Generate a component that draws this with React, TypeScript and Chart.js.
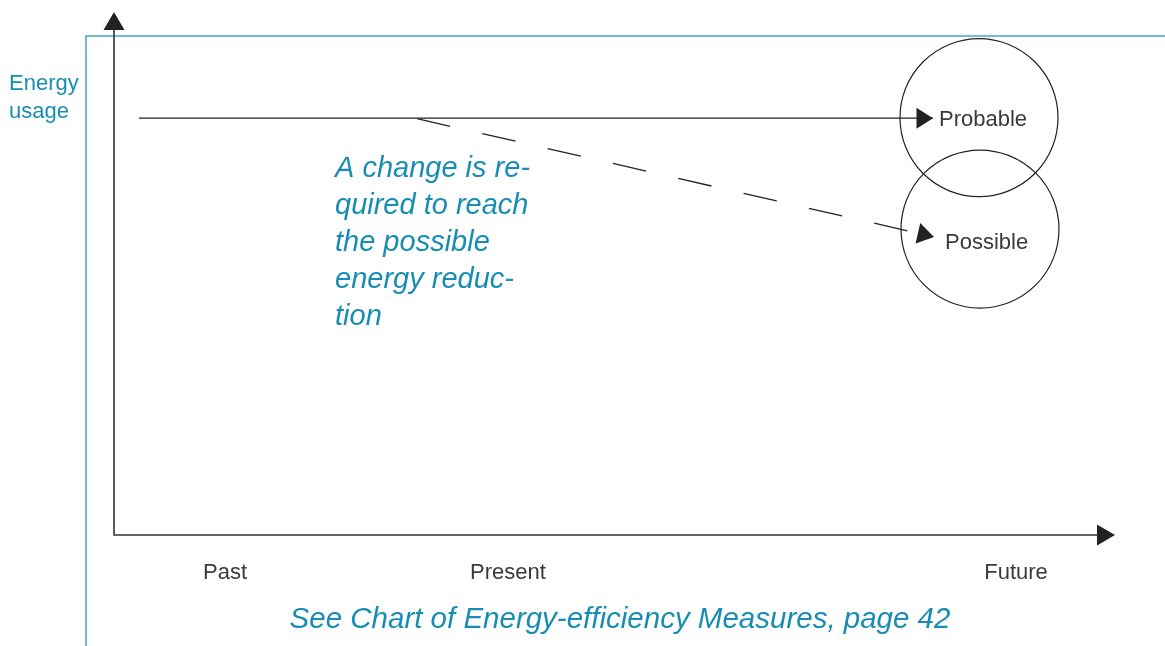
import React, { useEffect, useRef } from "react";
import { Chart, registerables } from "chart.js";

Chart.register(...registerables);

// ---- data (conceptual units: time 0..100, energy usage 0..100) ----
const timeLabels = ["Past", "Present", "Future"];
const timeLabelValues = [11.1, 39.4, 90.2];

const probableX = [2.5, 81.9];
const probableY = [79.7, 79.7];

const possibleX = [30.3, 82.0];
const possibleY = [79.6, 57.0];

const outcomeNames = ["Probable", "Possible"];
const outcomeX = [86.5, 86.6];
const outcomeY = [79.8, 58.5];

const yAxisTitle = ["Energy", "usage"];
const noteLines = ["A change is re-", "quired to reach", "the possible", "energy reduc-", "tion"];
const caption = "See Chart of Energy-efficiency Measures, page 42";

const TEAL = "#188db3";
const FRAME = "#45a6c6";
const INK = "#222222";
const TEXT = "#3a3a3a";
const SANS = '"Liberation Sans", Arial, sans-serif';

function arrowHead(ctx: CanvasRenderingContext2D, tx: number, ty: number, ang: number, len: number, half: number, color: string) {
  ctx.save();
  ctx.translate(tx, ty);
  ctx.rotate(ang);
  ctx.beginPath();
  ctx.moveTo(0, 0);
  ctx.lineTo(-len, -half);
  ctx.lineTo(-len, half);
  ctx.closePath();
  ctx.fillStyle = color;
  ctx.fill();
  ctx.restore();
}

const diagramPlugin = {
  id: "diagram",
  beforeDraw(chart: any) {
    const { ctx, chartArea, width, height } = chart;
    ctx.save();
    ctx.fillStyle = "#ffffff";
    ctx.fillRect(0, 0, width, height);
    // teal frame
    ctx.strokeStyle = FRAME;
    ctx.lineWidth = 1.5;
    ctx.beginPath();
    ctx.moveTo(width + 2, chartArea.top + 24);
    ctx.lineTo(chartArea.left - 28, chartArea.top + 24);
    ctx.lineTo(chartArea.left - 28, height + 2);
    ctx.stroke();
    ctx.restore();
  },
  afterDatasetsDraw(chart: any) {
    const { ctx, chartArea, scales } = chart;
    const xs = scales.x;
    const ys = scales.y;
    ctx.save();

    // axes
    ctx.strokeStyle = "#333333";
    ctx.lineWidth = 1.6;
    ctx.beginPath();
    ctx.moveTo(chartArea.left, chartArea.top + 18);
    ctx.lineTo(chartArea.left, chartArea.bottom);
    ctx.lineTo(chartArea.right - 17, chartArea.bottom);
    ctx.stroke();
    arrowHead(ctx, chartArea.left, chartArea.top, -Math.PI / 2, 18, 10.5, INK);
    arrowHead(ctx, chartArea.right + 1, chartArea.bottom, 0, 18, 10.5, INK);

    // arrowheads for the two paths
    const paths = [
      [probableX, probableY],
      [possibleX, possibleY],
    ];
    paths.forEach(([px, py]) => {
      const n = px.length;
      const x1 = xs.getPixelForValue(px[n - 2]);
      const y1 = ys.getPixelForValue(py[n - 2]);
      const x2 = xs.getPixelForValue(px[n - 1]);
      const y2 = ys.getPixelForValue(py[n - 1]);
      arrowHead(ctx, x2, y2, Math.atan2(y2 - y1, x2 - x1), 16.5, 10.5, INK);
    });

    // outcome labels
    ctx.fillStyle = TEXT;
    ctx.font = `22px ${SANS}`;
    ctx.textBaseline = "alphabetic";
    ctx.textAlign = "left";
    outcomeNames.forEach((name, i) => {
      const cx = xs.getPixelForValue(outcomeX[i]);
      const cy = ys.getPixelForValue(outcomeY[i]);
      if (i === 0) ctx.fillText(name, cx - 40, cy + 8);
      else ctx.fillText(name, cx - 35, cy + 20);
    });

    // time labels
    ctx.textAlign = "center";
    timeLabels.forEach((t, i) => {
      ctx.fillText(t, xs.getPixelForValue(timeLabelValues[i]), chartArea.bottom + 44);
    });

    // y axis title
    ctx.fillStyle = TEAL;
    ctx.textAlign = "left";
    ctx.font = `22px ${SANS}`;
    yAxisTitle.forEach((t, i) => {
      ctx.fillText(t, 9, 90 + i * 27.5);
    });

    // note
    ctx.font = `italic 29px ${SANS}`;
    noteLines.forEach((t, i) => {
      ctx.fillText(t, 335, 177 + i * 37);
    });

    // caption
    ctx.textAlign = "center";
    ctx.font = `italic 29.5px ${SANS}`;
    ctx.fillText(caption, 620, 628);

    ctx.restore();
  },
};

export default function App() {
  const canvasRef = useRef<HTMLCanvasElement | null>(null);

  useEffect(() => {
    if (!canvasRef.current) return;
    const chart = new Chart(canvasRef.current, {
      type: "scatter",
      data: {
        datasets: [
          {
            type: "line",
            label: "Probable",
            data: probableX.map((x, i) => ({ x, y: probableY[i] })),
            borderColor: INK,
            borderWidth: 1.4,
            pointRadius: 0,
            fill: false,
          },
          {
            type: "line",
            label: "Possible",
            data: possibleX.map((x, i) => ({ x, y: possibleY[i] })),
            borderColor: INK,
            borderWidth: 1.3,
            borderDash: [34, 33],
            pointRadius: 0,
            fill: false,
          },
          {
            type: "scatter",
            label: "Outcomes",
            data: outcomeX.map((x, i) => ({ x, y: outcomeY[i] })),
            pointRadius: 79,
            pointHoverRadius: 79,
            pointBackgroundColor: "rgba(0,0,0,0)",
            pointBorderColor: INK,
            pointBorderWidth: 1.2,
            clip: false,
          } as any,
        ],
      },
      options: {
        animation: false,
        responsive: true,
        maintainAspectRatio: false,
        events: [],
        layout: { autoPadding: false, padding: { left: 114, right: 51, top: 12, bottom: 111 } },
        scales: {
          x: { type: "linear", min: 0, max: 100, display: false },
          y: { type: "linear", min: 0, max: 100, display: false },
        },
        plugins: {
          legend: { display: false },
          tooltip: { enabled: false },
        },
      },
      plugins: [diagramPlugin],
    });
    return () => chart.destroy();
  }, []);

  return (
    <div style={{ position: "absolute", left: 0, top: 0, width: 1165, height: 646, background: "#fff" }}>
      <canvas ref={canvasRef} />
    </div>
  );
}
